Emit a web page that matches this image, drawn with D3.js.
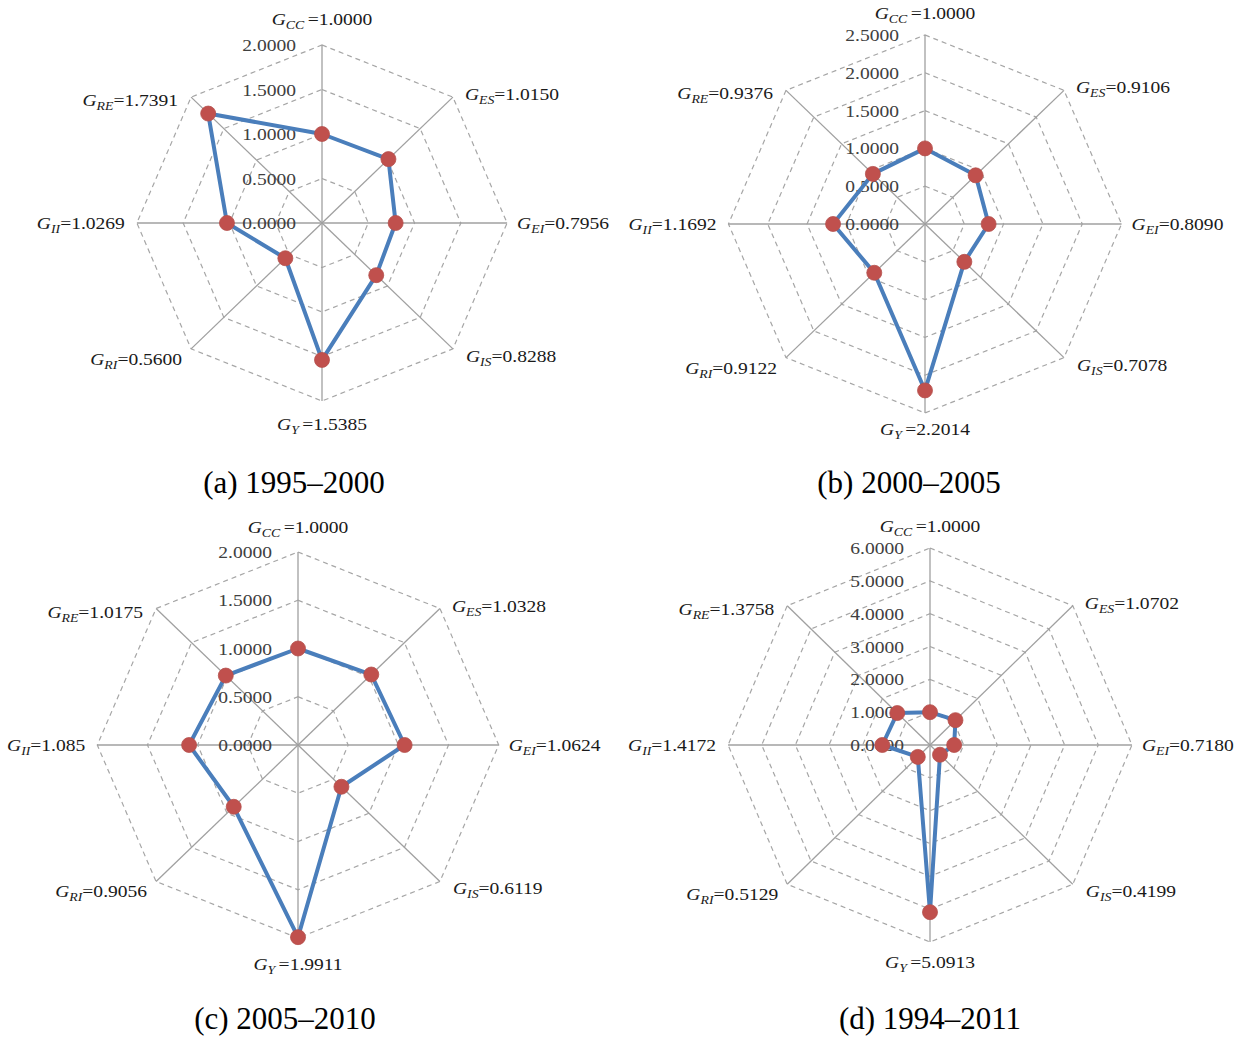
<!DOCTYPE html>
<html>
<head>
<meta charset="utf-8">
<script src="https://cdn.jsdelivr.net/npm/d3@7"></script>
<style>
  html, body { margin: 0; padding: 0; background: #ffffff; }
  svg { display: block; }
</style>
</head>
<body>
<svg id="chart" width="1237" height="1038"></svg>
<script>
// Indicator axes, clockwise from the top
const axisKeys = ["CC", "ES", "EI", "IS", "Y", "RI", "II", "RE"];

// Panel captions
const captions = ["(a) 1995\u20132000", "(b) 2000\u20132005", "(c) 2005\u20132010", "(d) 1994\u20132011"];

// Indicator values per period (same order as axisKeys)
const values1995_2000 = [1.0000, 1.0150, 0.7956, 0.8288, 1.5385, 0.5600, 1.0269, 1.7391];
const values2000_2005 = [1.0000, 0.9106, 0.8090, 0.7078, 2.2014, 0.9122, 1.1692, 0.9376];
const values2005_2010 = [1.0000, 1.0328, 1.0624, 0.6119, 1.9911, 0.9056, 1.085, 1.0175];
const values1994_2011 = [1.0000, 1.0702, 0.7180, 0.4199, 5.0913, 0.5129, 1.4172, 1.3758];

// Decimal places shown in each value label
const digits1995_2000 = [4, 4, 4, 4, 4, 4, 4, 4];
const digits2000_2005 = [4, 4, 4, 4, 4, 4, 4, 4];
const digits2005_2010 = [4, 4, 4, 4, 4, 4, 3, 4];
const digits1994_2011 = [4, 4, 4, 4, 4, 4, 4, 4];

// Radial tick values per panel
const ticks1995_2000 = [0, 0.5, 1.0, 1.5, 2.0];
const ticks2000_2005 = [0, 0.5, 1.0, 1.5, 2.0, 2.5];
const ticks2005_2010 = [0, 0.5, 1.0, 1.5, 2.0];
const ticks1994_2011 = [0, 1, 2, 3, 4, 5, 6];

// Layout of the four radar panels (topGap / bottomGap: label centre distance from the ring)
const panels = [
  { values: values1995_2000, digits: digits1995_2000, ticks: ticks1995_2000, caption: captions[0],
    cx: 322, cy: 223, R: 178, sx: 1.04, topGap: 26, bottomGap: 23, capX: 294, capY: 493 },
  { values: values2000_2005, digits: digits2000_2005, ticks: ticks2000_2005, caption: captions[1],
    cx: 925, cy: 224, R: 189, sx: 1.04, topGap: 22, bottomGap: 16, capX: 909, capY: 493 },
  { values: values2005_2010, digits: digits2005_2010, ticks: ticks2005_2010, caption: captions[2],
    cx: 298, cy: 745, R: 193, sx: 1.04, topGap: 25, bottomGap: 26, capX: 285, capY: 1029 },
  { values: values1994_2011, digits: digits1994_2011, ticks: ticks1994_2011, caption: captions[3],
    cx: 930, cy: 745, R: 197, sx: 1.025, topGap: 22, bottomGap: 20, capX: 930, capY: 1029 }
];

// Offsets of the side labels from their ring vertex: [dx, dy of label centre]
const sideOffsets = { 1: [12, -3], 2: [10, 0], 3: [13, 7], 5: [-9, 10], 6: [-12, 0], 7: [-13, 3] };

const svg = d3.select("#chart");
const serif = "'Liberation Serif', 'Times New Roman', serif";
const gridColor = "#a6a6a6";
const spokeColor = "#a0a0a0";
const lineColor = "#4a7ebb";
const markerColor = "#c0504d";
const fontSize = 17;
const textStretch = 1.15;

panels.forEach(p => {
  const n = axisKeys.length;
  const maxV = p.ticks[p.ticks.length - 1];
  const r = d3.scaleLinear().domain([0, maxV]).range([0, p.R]);
  const angle = d3.scaleLinear().domain([0, n]).range([0, 2 * Math.PI]);
  const px = (v, i) => p.cx + p.sx * r(v) * Math.sin(angle(i));
  const py = (v, i) => p.cy - r(v) * Math.cos(angle(i));

  const g = svg.append("g");
  const closed = d3.line().x(d => d[0]).y(d => d[1]).curve(d3.curveLinearClosed);

  // dashed octagonal grid rings (skip zero)
  g.selectAll("path.ring")
    .data(p.ticks.filter(t => t > 0))
    .join("path")
    .attr("class", "ring")
    .attr("d", t => closed(d3.range(n).map(i => [px(t, i), py(t, i)])))
    .attr("fill", "none")
    .attr("stroke", gridColor)
    .attr("stroke-width", 1.2)
    .attr("stroke-dasharray", "5,4");

  // spokes
  g.selectAll("line.spoke")
    .data(d3.range(n))
    .join("line")
    .attr("class", "spoke")
    .attr("x1", p.cx).attr("y1", p.cy)
    .attr("x2", i => px(maxV, i)).attr("y2", i => py(maxV, i))
    .attr("stroke", spokeColor)
    .attr("stroke-width", 1.3);

  // radial tick labels along the top spoke
  g.selectAll("text.tick")
    .data(p.ticks)
    .join("text")
    .attr("class", "tick")
    .attr("transform", t => `translate(${p.cx - 26},${p.cy - r(t) + 6}) scale(${textStretch},1)`)
    .attr("text-anchor", "end")
    .attr("font-family", serif)
    .attr("font-size", fontSize)
    .attr("fill", "#404040")
    .text(t => t.toFixed(4));

  // indicator labels around the outer ring
  const labels = g.selectAll("text.axlabel")
    .data(d3.range(n))
    .join("text")
    .attr("class", "axlabel")
    .attr("font-family", serif)
    .attr("font-size", fontSize)
    .attr("fill", "#1a1a1a")
    .attr("text-anchor", i => (i === 0 || i === 4) ? "middle" : (i < 4 ? "start" : "end"))
    .attr("transform", i => {
      const vx = px(maxV, i), vy = py(maxV, i);
      let x = vx, yc = vy;
      if (i === 0) yc = vy - p.topGap;
      else if (i === 4) yc = vy + p.bottomGap;
      else { x = vx + sideOffsets[i][0]; yc = vy + sideOffsets[i][1]; }
      return `translate(${x},${yc + 6}) scale(${textStretch},1)`;
    });
  labels.append("tspan")
    .attr("font-style", "italic")
    .text("G");
  labels.append("tspan")
    .attr("font-style", "italic")
    .attr("font-size", 12)
    .attr("dy", 4)
    .text(i => axisKeys[i]);
  labels.append("tspan")
    .attr("dy", -4)
    .attr("dx", i => (axisKeys[i] === "CC" || axisKeys[i] === "Y") ? 3 : 0)
    .text(i => "=" + p.values[i].toFixed(p.digits[i]));

  // value polygon
  g.append("path")
    .attr("d", closed(p.values.map((v, i) => [px(v, i), py(v, i)])))
    .attr("fill", "none")
    .attr("stroke", lineColor)
    .attr("stroke-width", 4)
    .attr("stroke-linejoin", "round");

  // markers
  g.selectAll("circle.marker")
    .data(p.values)
    .join("circle")
    .attr("class", "marker")
    .attr("cx", (v, i) => px(v, i))
    .attr("cy", (v, i) => py(v, i))
    .attr("r", 7.5)
    .attr("fill", markerColor)
    .attr("stroke", "#b5504d")
    .attr("stroke-width", 0.8);

  // caption
  svg.append("text")
    .attr("x", p.capX)
    .attr("y", p.capY)
    .attr("text-anchor", "middle")
    .attr("font-family", serif)
    .attr("font-size", 31)
    .attr("fill", "#000")
    .text(p.caption);
});
</script>
</body>
</html>
